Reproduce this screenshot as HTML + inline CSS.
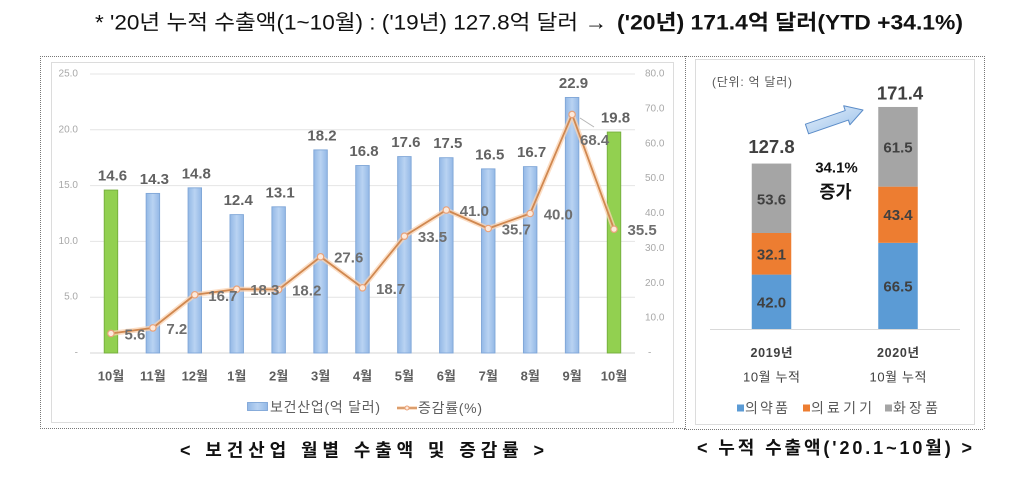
<!DOCTYPE html>
<html><head><meta charset="utf-8"><style>
html,body{margin:0;padding:0;background:#fff;}
svg{display:block;}
text{font-family:"Liberation Sans","Noto Sans CJK KR",sans-serif;}
</style></head><body>
<svg width="1024" height="481" viewBox="0 0 1024 481" xmlns="http://www.w3.org/2000/svg">
<defs>
<linearGradient id="gb" x1="0" x2="1" y1="0" y2="0">
<stop offset="0" stop-color="#93b8e6"/><stop offset="0.5" stop-color="#b9d3f2"/><stop offset="1" stop-color="#93b8e6"/>
</linearGradient>
<linearGradient id="ga" x1="0" x2="1" y1="0" y2="1">
<stop offset="0" stop-color="#e8f1fb"/><stop offset="1" stop-color="#98c0ea"/>
</linearGradient>
</defs>
<rect width="1024" height="481" fill="#fff"/>

<!-- Title -->
<text x="95" y="23" font-size="21" fill="#111" dominant-baseline="central" textLength="512" lengthAdjust="spacingAndGlyphs">* '20년 누적 수출액(1~10월) : ('19년) 127.8억 달러 →</text>
<text x="617" y="23" font-size="21" font-weight="bold" fill="#111" dominant-baseline="central" textLength="346" lengthAdjust="spacingAndGlyphs">('20년) 171.4억 달러(YTD +34.1%)</text>

<!-- dotted borders -->
<g stroke="#777" stroke-width="1" stroke-dasharray="1,1" fill="none">
<line x1="40" y1="56.5" x2="984" y2="56.5"/>
<line x1="40" y1="428.5" x2="685" y2="428.5"/>
<line x1="684" y1="429.5" x2="984" y2="429.5"/>
<line x1="40.5" y1="56" x2="40.5" y2="429"/>
<line x1="685.5" y1="56" x2="685.5" y2="430"/>
<line x1="984.5" y1="56" x2="984.5" y2="430"/>
</g>

<!-- Left chart inner box -->
<rect x="51.5" y="62.5" width="622" height="360" fill="#fff" stroke="#dcdcdc" stroke-width="1"/>

<!-- gridlines -->
<g stroke="#e4e4e4" stroke-width="1">
<line x1="90" y1="74" x2="635" y2="74"/>
<line x1="90" y1="129.8" x2="635" y2="129.8"/>
<line x1="90" y1="185.6" x2="635" y2="185.6"/>
<line x1="90" y1="241.4" x2="635" y2="241.4"/>
<line x1="90" y1="297.2" x2="635" y2="297.2"/>
<line x1="90" y1="353" x2="635" y2="353" stroke="#d6d6d6"/>
</g>

<!-- left axis labels -->
<g font-size="10" fill="#a8a8a8" text-anchor="end" dominant-baseline="central">
<text x="78" y="74">25.0</text>
<text x="78" y="129.8">20.0</text>
<text x="78" y="185.6">15.0</text>
<text x="78" y="241.4">10.0</text>
<text x="78" y="297.2">5.0</text>
<text x="78" y="353">-</text>
</g>
<!-- right axis labels -->
<g font-size="10" fill="#a8a8a8" text-anchor="start" dominant-baseline="central">
<text x="645" y="74">80.0</text>
<text x="645" y="108.9">70.0</text>
<text x="645" y="143.75">60.0</text>
<text x="645" y="178.6">50.0</text>
<text x="645" y="213.5">40.0</text>
<text x="645" y="248.4">30.0</text>
<text x="645" y="283.25">20.0</text>
<text x="645" y="318.1">10.0</text>
<text x="648" y="353">-</text>
</g>

<!-- bars -->
<g stroke-width="0.9">
<rect x="104.21" y="190.06" width="13.5" height="162.94" fill="#92d050" stroke="#74ad3c"/>
<rect x="146.13" y="193.41" width="13.5" height="159.59" fill="url(#gb)" stroke="#7fa6d7"/>
<rect x="188.05" y="187.83" width="13.5" height="165.17" fill="url(#gb)" stroke="#7fa6d7"/>
<rect x="229.97" y="214.62" width="13.5" height="138.38" fill="url(#gb)" stroke="#7fa6d7"/>
<rect x="271.89" y="206.80" width="13.5" height="146.2" fill="url(#gb)" stroke="#7fa6d7"/>
<rect x="313.81" y="149.89" width="13.5" height="203.11" fill="url(#gb)" stroke="#7fa6d7"/>
<rect x="355.73" y="165.51" width="13.5" height="187.49" fill="url(#gb)" stroke="#7fa6d7"/>
<rect x="397.65" y="156.58" width="13.5" height="196.42" fill="url(#gb)" stroke="#7fa6d7"/>
<rect x="439.57" y="157.70" width="13.5" height="195.3" fill="url(#gb)" stroke="#7fa6d7"/>
<rect x="481.49" y="168.86" width="13.5" height="184.14" fill="url(#gb)" stroke="#7fa6d7"/>
<rect x="523.41" y="166.63" width="13.5" height="186.37" fill="url(#gb)" stroke="#7fa6d7"/>
<rect x="565.33" y="97.44" width="13.5" height="255.56" fill="url(#gb)" stroke="#7fa6d7"/>
<rect x="607.25" y="132.03" width="13.5" height="220.97" fill="#92d050" stroke="#74ad3c"/>
</g>

<!-- bar labels -->
<g font-size="15" font-weight="bold" fill="#626262" text-anchor="middle" dominant-baseline="central">
<text x="112.5" y="176.06">14.6</text>
<text x="154.4" y="179.41">14.3</text>
<text x="196.3" y="173.83">14.8</text>
<text x="238.2" y="200.62">12.4</text>
<text x="280.1" y="192.8">13.1</text>
<text x="322" y="135.89">18.2</text>
<text x="364" y="151.51">16.8</text>
<text x="405.9" y="142.58">17.6</text>
<text x="447.8" y="143.7">17.5</text>
<text x="489.7" y="154.86">16.5</text>
<text x="531.6" y="152.63">16.7</text>
<text x="573.5" y="83.44">22.9</text>
<text x="615.5" y="118.03">19.8</text>
</g>

<!-- line -->
<polyline fill="none" stroke="#fbd3b2" stroke-width="5" stroke-opacity="0.75" stroke-linejoin="round"
points="110.96,333.47 152.88,327.89 194.80,294.76 236.72,289.18 278.64,289.53 320.56,256.74 362.48,287.78 404.40,236.17 446.32,210.01 488.24,228.50 530.16,213.5 572.08,114.45 614.00,229.19"/>
<polyline fill="none" stroke="#d08850" stroke-width="1.8" stroke-linejoin="round"
points="110.96,333.47 152.88,327.89 194.80,294.76 236.72,289.18 278.64,289.53 320.56,256.74 362.48,287.78 404.40,236.17 446.32,210.01 488.24,228.50 530.16,213.5 572.08,114.45 614.00,229.19"/>
<g fill="#fdeadc" stroke="#e9a27a" stroke-width="1.2">
<circle cx="110.96" cy="333.47" r="3.2"/>
<circle cx="152.88" cy="327.89" r="3.2"/>
<circle cx="194.80" cy="294.76" r="3.2"/>
<circle cx="236.72" cy="289.18" r="3.2"/>
<circle cx="278.64" cy="289.53" r="3.2"/>
<circle cx="320.56" cy="256.74" r="3.2"/>
<circle cx="362.48" cy="287.78" r="3.2"/>
<circle cx="404.40" cy="236.17" r="3.2"/>
<circle cx="446.32" cy="210.01" r="3.2"/>
<circle cx="488.24" cy="228.50" r="3.2"/>
<circle cx="530.16" cy="213.5" r="3.2"/>
<circle cx="572.08" cy="114.45" r="3.2"/>
<circle cx="614.00" cy="229.19" r="3.2"/>
</g>
<line x1="580" y1="118" x2="594" y2="127" stroke="#b5b5b5" stroke-width="1"/>

<!-- line labels -->
<g font-size="15" font-weight="bold" fill="#6e6e6e" text-anchor="start" dominant-baseline="central">
<text x="124.5" y="335">5.6</text>
<text x="166.4" y="329.4">7.2</text>
<text x="208.3" y="296.3">16.7</text>
<text x="250.2" y="290.7">18.3</text>
<text x="292.1" y="291">18.2</text>
<text x="334.1" y="258.2">27.6</text>
<text x="376" y="289.3">18.7</text>
<text x="417.9" y="237.7">33.5</text>
<text x="459.8" y="211.5">41.0</text>
<text x="501.7" y="230">35.7</text>
<text x="543.7" y="215">40.0</text>
<text x="580" y="140.7">68.4</text>
<text x="627.5" y="230.7">35.5</text>
</g>

<!-- x labels -->
<g font-size="13" font-weight="bold" fill="#5e5e5e" text-anchor="middle" dominant-baseline="central">
<text x="111" y="376">10월</text>
<text x="152.9" y="376">11월</text>
<text x="194.8" y="376">12월</text>
<text x="236.7" y="376">1월</text>
<text x="278.6" y="376">2월</text>
<text x="320.6" y="376">3월</text>
<text x="362.5" y="376">4월</text>
<text x="404.4" y="376">5월</text>
<text x="446.3" y="376">6월</text>
<text x="488.2" y="376">7월</text>
<text x="530.2" y="376">8월</text>
<text x="572.1" y="376">9월</text>
<text x="614" y="376">10월</text>
</g>

<!-- left legend -->
<rect x="247.5" y="402.5" width="20" height="8" fill="url(#gb)" stroke="#7fa6d7" stroke-width="0.9"/>
<text x="270" y="407" font-size="14" fill="#5e5e5e" dominant-baseline="central" textLength="110">보건산업(억 달러)</text>
<line x1="397" y1="408" x2="417" y2="408" stroke="#fbd3b2" stroke-width="4" stroke-opacity="0.7"/>
<line x1="397" y1="408" x2="417" y2="408" stroke="#d08850" stroke-width="1.6"/>
<circle cx="407" cy="408" r="2" fill="#fdeadc" stroke="#e9a27a" stroke-width="1"/>
<text x="418" y="408" font-size="14" fill="#5e5e5e" dominant-baseline="central" textLength="64">증감률(%)</text>

<!-- Right chart inner box -->
<rect x="695.5" y="59.5" width="279" height="365" fill="#fff" stroke="#dcdcdc" stroke-width="1"/>
<text x="712" y="82" font-size="12" fill="#595959" dominant-baseline="central" textLength="80">(단위: 억 달러)</text>

<line x1="710" y1="329.5" x2="960" y2="329.5" stroke="#d9d9d9" stroke-width="1"/>
<!-- 2019 -->
<rect x="751.75" y="274.59" width="39.5" height="54.41" fill="#5b9bd5"/>
<rect x="751.75" y="233.0" width="39.5" height="41.59" fill="#ed7d31"/>
<rect x="751.75" y="163.56" width="39.5" height="69.44" fill="#a5a5a5"/>
<!-- 2020 -->
<rect x="878.25" y="242.85" width="39.5" height="86.15" fill="#5b9bd5"/>
<rect x="878.25" y="186.63" width="39.5" height="56.22" fill="#ed7d31"/>
<rect x="878.25" y="106.96" width="39.5" height="79.67" fill="#a5a5a5"/>

<g font-size="15" font-weight="bold" fill="#404040" text-anchor="middle" dominant-baseline="central">
<text x="771.5" y="200">53.6</text>
<text x="771.5" y="255">32.1</text>
<text x="771.5" y="303">42.0</text>
<text x="898" y="148">61.5</text>
<text x="898" y="215.7">43.4</text>
<text x="898" y="287">66.5</text>
</g>
<g font-size="18.5" font-weight="bold" fill="#404040" text-anchor="middle" dominant-baseline="central">
<text x="771.5" y="146.7">127.8</text>
<text x="900" y="93">171.4</text>
</g>
<text x="836.5" y="168" font-size="15" font-weight="bold" fill="#111" text-anchor="middle" dominant-baseline="central">34.1%</text>
<text x="835.5" y="192" font-size="17.5" font-weight="bold" fill="#111" text-anchor="middle" dominant-baseline="central">증가</text>

<!-- arrow -->
<polygon points="805.4,124.2 845.2,110.55 843.7,105.8 863,110 849.9,124.8 848.4,120.05 808.6,133.8" fill="url(#ga)" stroke="#5b8cc8" stroke-width="1" stroke-linejoin="round"/>

<!-- category labels -->
<g text-anchor="middle" dominant-baseline="central" fill="#404040">
<text x="771.5" y="353" font-size="12.5" font-weight="bold" textLength="42">2019년</text>
<text x="898" y="353" font-size="12.5" font-weight="bold" textLength="42">2020년</text>
<text x="771.5" y="377" font-size="13" textLength="57">10월 누적</text>
<text x="898" y="377" font-size="13" textLength="57">10월 누적</text>
</g>

<!-- right legend -->
<rect x="737" y="404.5" width="7" height="7" fill="#5b9bd5"/>
<text x="745" y="408" font-size="14" fill="#595959" dominant-baseline="central" textLength="43">의약품</text>
<rect x="803" y="404.5" width="7" height="7" fill="#ed7d31"/>
<text x="811" y="408" font-size="14" fill="#595959" dominant-baseline="central" textLength="61">의료기기</text>
<rect x="885" y="404.5" width="7" height="7" fill="#a5a5a5"/>
<text x="893" y="408" font-size="14" fill="#595959" dominant-baseline="central" textLength="45">화장품</text>

<!-- captions -->
<text x="180" y="450.5" font-size="18" font-weight="bold" fill="#111" dominant-baseline="central" textLength="364">&lt; 보건산업 월별 수출액 및 증감률 &gt;</text>
<text x="697" y="448" font-size="18" font-weight="bold" fill="#111" dominant-baseline="central" textLength="275">&lt; 누적 수출액('20.1~10월) &gt;</text>
</svg>
</body></html>
